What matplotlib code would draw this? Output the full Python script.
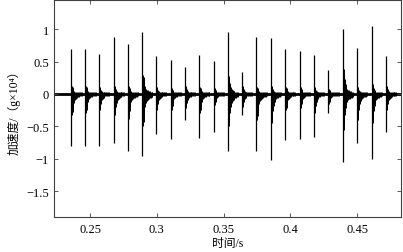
import numpy as np
import matplotlib
matplotlib.use("Agg")
import matplotlib.pyplot as plt

# Impact events (time in s, values in g x 10^4)
SPIKE_T = [0.2360, 0.2465, 0.2567, 0.2680, 0.2782, 0.2891, 0.2994, 0.3104,
           0.3211, 0.3318, 0.3426, 0.3533, 0.3637, 0.3746, 0.3854, 0.3961,
           0.4069, 0.4176, 0.4285, 0.4393, 0.4498, 0.4610, 0.4717]
SPIKE_PEAK = [0.69, 0.70, 0.62, 0.875, 0.77, 0.95, 0.58, 0.525,
              0.41, 0.60, 0.51, 0.95, 0.345, 0.875, 0.86, 0.69,
              0.67, 0.60, 0.37, 1.01, 0.705, 1.045, 0.58]
SPIKE_TROUGH = [-0.80, -0.80, -0.80, -0.76, -0.88, -0.95, -0.62, -0.70,
                -0.40, -0.68, -0.59, -0.875, -0.33, -0.885, -1.02, -0.705,
                -0.70, -0.67, -0.30, -1.045, -0.76, -1.00, -0.59]
# dense ring-down block right after each impact
TAIL_TOP = [0.12, 0.12, 0.10, 0.12, 0.15, 0.30, 0.10, 0.10, 0.12, 0.10, 0.10, 0.28,
            0.12, 0.10, 0.12, 0.10, 0.12, 0.10, 0.08, 0.38, 0.10, 0.15, 0.12]
TAIL_BOTTOM = [-0.33, -0.30, -0.25, -0.33, -0.45, -0.50, -0.25, -0.30, -0.22, -0.30,
               -0.20, -0.50, -0.20, -0.40, -0.45, -0.25, -0.25, -0.30, -0.15, -0.55,
               -0.40, -0.45, -0.25]
# ring-down shape (offset after impact in s, fraction of the block height)
DECAY_DT = [0.0005, 0.0010, 0.0015, 0.0020, 0.0027, 0.0034, 0.0041, 0.0048,
            0.0055, 0.0062, 0.0069, 0.0076]
DECAY_FRAC = [1.0, 0.85, 0.6, 0.4, 0.28, 0.22, 0.18, 0.15,
              0.13, 0.11, 0.10, 0.08]

XTICKS = [0.25, 0.30, 0.35, 0.40, 0.45]
XTICK_LABELS = ["0.25", "0.3", "0.35", "0.4", "0.45"]
YTICKS = [-1.5, -1.0, -0.5, 0.0, 0.5, 1.0]
YTICK_LABELS = ["\u22121.5", "\u22121", "\u22120.5", "0", "0.5", "1"]
XLIM = (0.2233, 0.4831)
YLIM = (-1.9, 1.45)

SERIF = ["Liberation Serif", "DejaVu Serif", "Noto Sans CJK SC"]

fig = plt.figure(figsize=(4.03, 2.53), dpi=100)
ax = fig.add_axes([0.135, 0.138, 0.861, 0.858])

# baseline noise band
ax.axhline(0, color="black", lw=2.0, zorder=1)

# ring-down blocks
for top, bot, t in zip(TAIL_TOP, TAIL_BOTTOM, SPIKE_T):
    xs = [t + d for d in DECAY_DT]
    hi = [max(top * f, 0.03) for f in DECAY_FRAC]
    lo = [min(bot * f, -0.03) for f in DECAY_FRAC]
    ax.vlines(xs, lo, hi, color="black", lw=0.7, zorder=2)

# main impact spikes
ax.vlines(SPIKE_T, SPIKE_TROUGH, SPIKE_PEAK, color="black", lw=0.9, zorder=3)

ax.set_xlim(*XLIM)
ax.set_ylim(*YLIM)
ax.set_xticks(XTICKS)
ax.set_xticklabels(XTICK_LABELS)
ax.set_yticks(YTICKS)
ax.set_yticklabels(YTICK_LABELS)
ax.tick_params(direction="in", length=3, width=0.6, top=True, right=True,
               colors="#404040", labelcolor="black", labelsize=9, pad=4)
for lab in ax.get_xticklabels() + ax.get_yticklabels():
    lab.set_family(SERIF)
for sp in ax.spines.values():
    sp.set_color("#404040")
    sp.set_linewidth(0.8)

ax.set_xlabel("时间/s", family=SERIF, fontsize=8.5, labelpad=2)
ax.set_ylabel("加速度/（g×10⁴）", family=SERIF, fontsize=8.5, labelpad=4)

fig.savefig("out.png", dpi=100, facecolor="white")
